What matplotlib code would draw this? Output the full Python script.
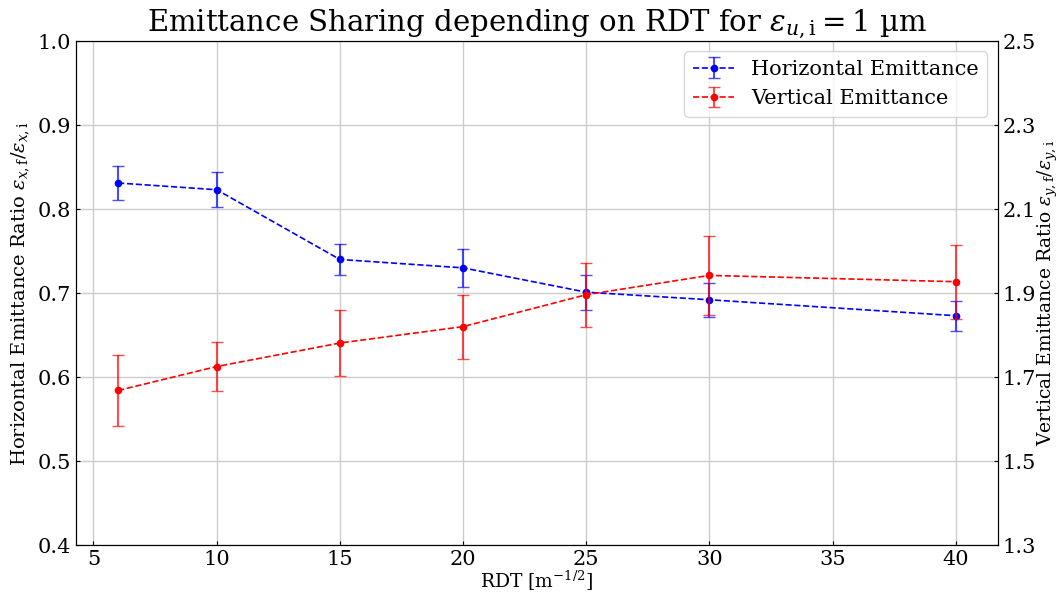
import matplotlib
matplotlib.use("Agg")
import matplotlib.pyplot as plt

plt.rcParams['font.family'] = 'DejaVu Serif'
plt.rcParams['mathtext.fontset'] = 'dejavuserif'

rdt = [6, 10, 15, 20, 25, 30, 40]

# horizontal emittance ratio and its error
hor_ratio = [0.831, 0.823, 0.740, 0.730, 0.701, 0.692, 0.673]
hor_err = [0.020, 0.021, 0.018, 0.023, 0.021, 0.020, 0.018]

# vertical emittance ratio and its error
ver_ratio = [1.668, 1.725, 1.781, 1.820, 1.896, 1.942, 1.927]
ver_err = [0.085, 0.058, 0.078, 0.076, 0.076, 0.095, 0.088]


def main():
    fig, ax1 = plt.subplots(figsize=(10.59, 5.95), dpi=100)
    ax2 = ax1.twinx()

    h = ax1.errorbar(rdt, hor_ratio, yerr=hor_err, fmt='o--', color='blue',
                     ecolor=(0, 0, 1, 0.7), markersize=4.5, capsize=4,
                     elinewidth=1.5, linewidth=1.2, label='Horizontal Emittance')
    v = ax2.errorbar(rdt, ver_ratio, yerr=ver_err, fmt='o--', color='red',
                     ecolor=(1, 0, 0, 0.7), markersize=4.5, capsize=4,
                     elinewidth=1.5, linewidth=1.2, label='Vertical Emittance')

    ax1.set_ylim(0.4, 1.0)
    ax2.set_ylim(1.3, 2.5)
    ax1.set_yticks([0.4, 0.5, 0.6, 0.7, 0.8, 0.9, 1.0])
    ax2.set_yticks([1.3, 1.5, 1.7, 1.9, 2.1, 2.3, 2.5])
    ax1.set_xticks([5, 10, 15, 20, 25, 30, 35, 40])
    ax1.grid(True, color='#cccccc', linewidth=1)

    for ax in (ax1, ax2):
        ax.tick_params(labelsize=15, direction='in', length=3)

    ax1.set_xlabel(r'RDT [m$^{-1/2}$]', fontsize=13.5, labelpad=0)
    ax1.set_ylabel(r'Horizontal Emittance Ratio $\varepsilon_{x,\mathrm{f}}/\varepsilon_{x,\mathrm{i}}$',
                   fontsize=14)
    ax2.set_ylabel(r'Vertical Emittance Ratio $\varepsilon_{y,\mathrm{f}}/\varepsilon_{y,\mathrm{i}}$',
                   fontsize=13.5, labelpad=0)
    ax1.set_title(r'Emittance Sharing depending on RDT for $\varepsilon_{u,\mathrm{i}} = 1$ µm',
                  fontsize=21)

    ax1.legend([h, v], ['Horizontal Emittance', 'Vertical Emittance'],
               loc='upper right', fontsize=15)

    fig.subplots_adjust(left=0.072, right=0.942, top=0.931, bottom=0.084)
    fig.savefig('out.png', dpi=100)


if __name__ == '__main__':
    main()
